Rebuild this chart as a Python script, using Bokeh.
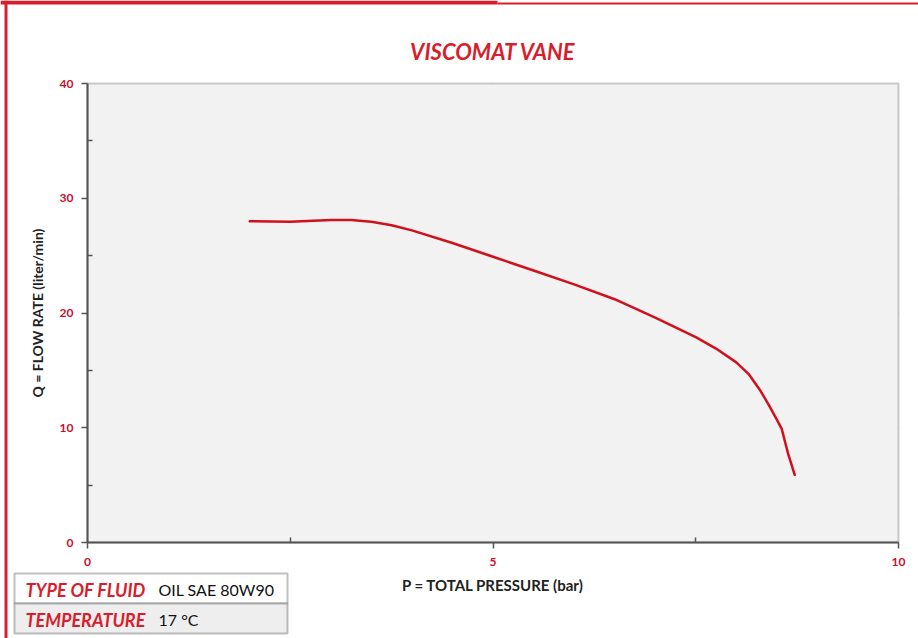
from bokeh.plotting import figure
from bokeh.models import Range1d, FixedTicker, Label, BoxAnnotation
from bokeh.embed import file_html
from bokeh.resources import INLINE

# ---- data ----
pressure_bar = [2.0, 2.5, 3.0, 3.25, 3.5, 3.75, 4.0, 4.5, 5.0, 5.5, 6.0, 6.5, 7.0, 7.5, 7.75, 8.0, 8.15, 8.3,
                8.4, 8.5, 8.56, 8.6, 8.64, 8.68, 8.72]
flow_lpm = [28.0, 27.95, 28.1, 28.1, 27.95, 27.65, 27.2, 26.1, 24.9, 23.7, 22.5, 21.2, 19.6, 17.9, 16.9, 15.7,
            14.7, 13.2, 12.0, 10.7, 9.9, 8.8, 7.7, 6.8, 5.9]
x_limits = [0, 10]
y_limits = [0, 40]
x_major_ticks = [0, 5, 10]
x_minor_ticks = [2.5, 7.5]
y_major_ticks = [0, 10, 20, 30, 40]
y_minor_ticks = [5, 15, 25, 35]
x_grid_lines = [5]
y_grid_lines = [10, 20, 30]
title_text = "VISCOMAT VANE"
x_label = "P = TOTAL PRESSURE (bar)"
y_label = "Q = FLOW RATE (liter/min)"
table_keys = ["TYPE OF FLUID", "TEMPERATURE"]
table_values = ["OIL SAE 80W90", "17 °C"]

RED = "#d81e2c"
TICK_RED = "#c8102e"
FONT = "Lato"

W, H = 918, 638
# plot area in page pixels: left 87, right 898, top 83, bottom 542
PL, PR, PT, PB = 87, 898, 83, 542
sx = (PR - PL) / (x_limits[1] - x_limits[0])
sy = (PB - PT) / (y_limits[1] - y_limits[0])
p = figure(width=W, height=H, output_backend="svg", toolbar_location=None,
           x_range=Range1d(x_limits[0] - PL / sx, x_limits[1] + (W - PR) / sx),
           y_range=Range1d(y_limits[0] - (H - PB) / sy, y_limits[1] + PT / sy),
           min_border=0)
p.background_fill_color = "white"
p.border_fill_color = "white"
p.outline_line_color = None
p.xgrid.visible = False
p.ygrid.visible = False

# plot area background and frame
p.add_layout(BoxAnnotation(left=x_limits[0], right=x_limits[1], bottom=y_limits[0], top=y_limits[1],
                           fill_color="#f2f2f2", fill_alpha=1, line_color="#555555", line_width=2,
                           level="underlay"))
# grid lines
p.segment(x0=x_grid_lines, x1=x_grid_lines, y0=[y_limits[0]] * len(x_grid_lines), y1=[y_limits[1]] * len(x_grid_lines),
          line_color="#c8c8c8", line_width=1.5, level="underlay")
p.segment(x0=[x_limits[0]] * len(y_grid_lines), x1=[x_limits[1]] * len(y_grid_lines), y0=y_grid_lines, y1=y_grid_lines,
          line_color="#c8c8c8", line_width=1.5, level="underlay")

p.xaxis.ticker = FixedTicker(ticks=x_major_ticks, minor_ticks=x_minor_ticks)
p.yaxis.ticker = FixedTicker(ticks=y_major_ticks, minor_ticks=y_minor_ticks)
p.xaxis.fixed_location = y_limits[0]
p.yaxis.fixed_location = x_limits[0]
p.xaxis.bounds = tuple(x_limits)
p.yaxis.bounds = tuple(y_limits)
for ax in (p.xaxis, p.yaxis):
    ax.axis_line_color = "#555555"
    ax.axis_line_width = 2
    ax.major_tick_line_color = "#555555"
    ax.major_tick_line_width = 1.5
    ax.major_tick_out = 6
    ax.major_tick_in = 0
    ax.minor_tick_line_color = "#555555"
    ax.minor_tick_line_width = 1.5
    ax.minor_tick_in = 5
    ax.minor_tick_out = 0
    ax.major_label_text_color = TICK_RED
    ax.major_label_text_font = FONT
    ax.major_label_text_font_style = "bold"
    ax.major_label_text_font_size = "12px"
    ax.axis_label_text_font = FONT
    ax.axis_label_text_font_style = "bold"
    ax.axis_label_text_color = "#222222"
p.xaxis.axis_label_text_font_size = "15px"
p.yaxis.axis_label_text_font_size = "14px"
p.xaxis.major_label_standoff = 9
p.yaxis.major_label_standoff = 8
p.xaxis.axis_label = x_label
p.yaxis.axis_label = y_label
p.xaxis.axis_label_standoff = 7
p.yaxis.axis_label_standoff = 11

p.line(pressure_bar, flow_lpm, line_color="#d0101c", line_width=2.5, line_join="round", line_cap="round")

def scr(x, y_top):
    """page pixel (x from left, y from top) -> screen units of the frame (y from bottom)"""
    return x, H - y_top

# title
tx, ty = scr((PL + PR) / 2, 51)
p.add_layout(Label(x=tx, y=ty, x_units="screen", y_units="screen", text=title_text,
                   text_align="center", text_baseline="middle", text_color=RED,
                   text_font=FONT, text_font_style="bold italic", text_font_size="22px"))

# red page frame
def box(x0, x1, y0, y1, **kw):
    return BoxAnnotation(left=x0, right=x1, top=H - y0, bottom=H - y1, left_units="screen", right_units="screen",
                         top_units="screen", bottom_units="screen", **kw)

p.add_layout(box(0, 497, 0, 4, fill_color=RED, fill_alpha=1, line_alpha=0, level="overlay"))
p.add_layout(box(497, W, 2, 4, fill_color=RED, fill_alpha=1, line_alpha=0, level="overlay"))
p.add_layout(box(4, 7, 0, H, fill_color=RED, fill_alpha=1, line_alpha=0, level="overlay"))

# info table
bx0, bx1, by0, row_h = 14, 287, 573, 30
fills = ["white", "#eeeeee"]
for i, (k, v) in enumerate(zip(table_keys, table_values)):
    top = by0 + i * row_h
    p.add_layout(box(bx0, bx1, top, top + row_h, fill_color=fills[i], fill_alpha=1,
                     line_color="#2e2e2e", line_width=2, level="overlay"))
    kx, ky = scr(bx0 + 11, top + row_h / 2 + 1)
    p.add_layout(Label(x=kx, y=ky, x_units="screen", y_units="screen", text=k,
                       text_baseline="middle", text_color=RED, text_font=FONT,
                       text_font_style="bold italic", text_font_size="18px", level="overlay"))
    vx, vy = scr(158, top + row_h / 2 + 1)
    p.add_layout(Label(x=vx, y=vy, x_units="screen", y_units="screen", text=v,
                       text_baseline="middle", text_color="#111111", text_font=FONT,
                       text_font_size="16px", level="overlay"))

open("out.html", "w").write(file_html(p, INLINE))
